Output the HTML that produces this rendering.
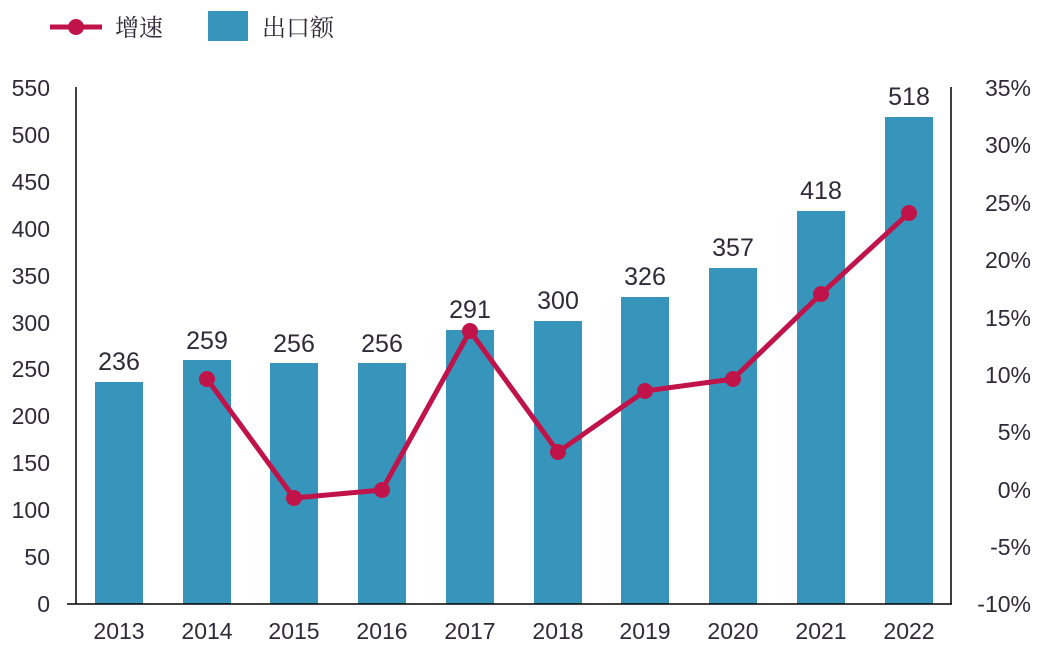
<!DOCTYPE html><html><head><meta charset="utf-8"><style>body{margin:0;background:#fff}svg{display:block}text{font-family:"Liberation Sans","Noto Sans CJK SC",sans-serif;fill:#2f2a38}</style></head><body>
<svg width="1054" height="655" viewBox="0 0 1054 655">
<line x1="50" y1="27" x2="102" y2="27" stroke="#c0134a" stroke-width="5"/>
<circle cx="76" cy="27" r="8" fill="#c0134a"/>
<text x="115" y="36" font-size="24" style="font-family:'Noto Serif CJK SC',serif">增速</text>
<rect x="208" y="11" width="40" height="30" fill="#3795bb"/>
<text x="262" y="36" font-size="24" style="font-family:'Noto Serif CJK SC',serif">出口额</text>
<g font-size="23" text-anchor="end">
<text x="50" y="612">0</text><text x="50" y="565">50</text><text x="50" y="518">100</text><text x="50" y="471">150</text><text x="50" y="424">200</text><text x="50" y="377">250</text><text x="50" y="331">300</text><text x="50" y="284">350</text><text x="50" y="237">400</text><text x="50" y="190">450</text><text x="50" y="143">500</text><text x="50" y="96">550</text>
</g>
<g font-size="23" text-anchor="end">
<text x="1031" y="612">-10%</text><text x="1031" y="555">-5%</text><text x="1031" y="498">0%</text><text x="1031" y="440">5%</text><text x="1031" y="383">10%</text><text x="1031" y="326">15%</text><text x="1031" y="268">20%</text><text x="1031" y="211">25%</text><text x="1031" y="153">30%</text><text x="1031" y="96">35%</text>
</g>
<g fill="#3795bb">
<rect x="95" y="382" width="48" height="222"/>
<rect x="183" y="360" width="48" height="244"/>
<rect x="270" y="363" width="48" height="241"/>
<rect x="358" y="363" width="48" height="241"/>
<rect x="446" y="330" width="48" height="274"/>
<rect x="534" y="321" width="48" height="283"/>
<rect x="621" y="297" width="48" height="307"/>
<rect x="709" y="268" width="48" height="336"/>
<rect x="797" y="211" width="48" height="393"/>
<rect x="885" y="117" width="48" height="487"/>
</g>
<g font-size="25" text-anchor="middle">
<text x="119" y="370">236</text><text x="207" y="349">259</text><text x="294" y="352">256</text><text x="382" y="352">256</text><text x="470" y="318">291</text><text x="558" y="309">300</text><text x="645" y="285">326</text><text x="733" y="256">357</text><text x="821" y="199">418</text><text x="909" y="105">518</text>
</g>
<g font-size="23" text-anchor="middle">
<text x="119" y="639">2013</text><text x="207" y="639">2014</text><text x="294" y="639">2015</text><text x="382" y="639">2016</text><text x="470" y="639">2017</text><text x="558" y="639">2018</text><text x="645" y="639">2019</text><text x="733" y="639">2020</text><text x="821" y="639">2021</text><text x="909" y="639">2022</text>
</g>
<line x1="76" y1="87" x2="76" y2="604" stroke="#000" stroke-width="1.5"/>
<line x1="67" y1="604" x2="952" y2="604" stroke="#000" stroke-width="1.5"/>
<line x1="951" y1="87" x2="951" y2="604" stroke="#000" stroke-width="1.5"/>
<polyline points="207,379 294,498 382,490 470,331 558,452 645,391 733,379 821,294 909,213" fill="none" stroke="#c0134a" stroke-width="5" stroke-linejoin="round"/>
<g fill="#c0134a">
<circle cx="207" cy="379" r="8"/><circle cx="294" cy="498" r="8"/><circle cx="382" cy="490" r="8"/><circle cx="470" cy="331" r="8"/><circle cx="558" cy="452" r="8"/><circle cx="645" cy="391" r="8"/><circle cx="733" cy="379" r="8"/><circle cx="821" cy="294" r="8"/><circle cx="909" cy="213" r="8"/>
</g>
</svg>
</body></html>
